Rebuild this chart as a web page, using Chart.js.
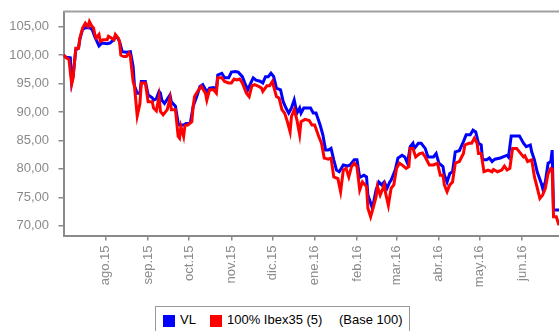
<!DOCTYPE html>
<html>
<head>
<meta charset="utf-8">
<script src="https://cdn.jsdelivr.net/npm/chart.js@4.4.1/dist/chart.umd.min.js"></script>
<style>
  html, body { margin:0; padding:0; background:#fff; overflow:hidden; width:559px; height:331px; }
  #wrap { position:absolute; left:0; top:0; width:559px; height:331px; }
  #legendBox { position:absolute; left:155px; top:306px; width:253px; height:40px; border:1px solid #999; background:#fff; }
  .lg { position:absolute; font-family:"Liberation Sans", Arial, sans-serif; font-size:13px; line-height:15px; color:#000; white-space:nowrap; }
  .sw { position:absolute; width:12px; height:12px; top:315px; }
</style>
</head>
<body>
<div id="wrap"><canvas id="c" width="559" height="331"></canvas></div>
<div id="legendBox"></div>
<div class="sw" style="left:163px;background:#0000ff"></div>
<span class="lg" style="left:180px;top:312px">VL</span>
<div class="sw" style="left:210px;background:#ff0000"></div>
<span class="lg" style="left:227px;top:312px">100% Ibex35 (5)</span>
<span class="lg" style="left:339px;top:312px">(Base 100)</span>
<script>
// days since 1 Jul 2015
const monthDays = [31, 62, 92, 123, 153, 184, 215, 244, 275, 305, 336];
const monthLabels = ['ago.15','sep.15','oct.15','nov.15','dic.15','ene.16','feb.16','mar.16','abr.16','may.16','jun.16'];
const yTicks = [70, 75, 80, 85, 90, 95, 100, 105];

const vlDays = [
  0,2,5,6,7,9,11,12,14,16,
  19,21,23,26,28,32,34,37,38,40,
  41,43,46,49,51,52,54,56,57,60,
  62,65,66,68,70,71,72,74,78,79,
  82,84,85,88,90,93,95,98,100,102,
  105,107,110,112,113,116,118,121,123,126,
  128,131,133,135,138,139,141,144,146,148,
  150,152,154,156,159,161,163,165,167,169,
  171,173,174,176,178,181,183,185,188,190,
  192,194,196,198,200,202,205,208,210,213,
  215,217,220,222,223,226,227,229,231,233,
  235,237,239,240,243,245,248,250,252,254,
  256,257,260,262,265,267,271,273,275,278,
  279,281,283,285,287,290,293,295,298,300,
  302,304,306,307,310,312,314,316,320,322,
  325,326,328,332,334,337,339,342,343,345,
  347,350,351,353,355,357,358,359,363
];
const vlValues = [
  100.0,99.6,99.5,95.2,96.2,100.9,101.2,102.8,104.5,104.8,
  104.8,104.5,103.2,101.6,102.1,102.0,102.1,102.7,103.3,102.9,
  102.4,100.6,100.5,100.6,98.0,94.6,93.3,93.3,95.35,95.35,
  93.0,92.5,92.1,92.3,93.6,93.3,92.1,91.5,93.0,91.8,
  91.0,88.0,87.7,87.7,88.0,88.2,91.0,93.0,94.5,94.8,
  93.5,94.2,94.3,94.0,96.5,96.8,96.0,96.0,97.0,97.1,
  97.0,96.2,95.0,93.9,95.5,96.0,95.6,95.4,95.1,96.2,
  96.2,96.8,96.2,94.2,93.9,91.8,90.7,89.8,90.7,92.1,
  89.8,90.7,89.8,90.7,90.7,90.7,89.8,89.8,87.7,86.0,
  83.3,83.3,83.6,81.6,79.8,79.5,80.7,80.5,80.7,81.6,
  81.6,78.5,78.9,78.6,75.4,73.3,73.9,76.3,77.7,77.2,
  77.7,76.6,77.7,78.0,79.8,81.9,82.4,82.1,81.0,83.9,
  84.5,83.6,84.5,84.5,83.6,82.1,82.1,82.7,81.0,80.4,
  78.9,77.7,79.2,79.5,83.0,83.2,84.8,86.0,86.0,86.8,
  86.5,84.5,84.2,81.6,81.6,81.9,81.3,81.7,81.9,82.1,
  82.4,82.1,85.8,85.8,85.8,84.5,83.9,84.2,83.0,81.6,
  79.5,77.5,76.6,77.7,81.0,81.3,83.3,72.8,72.8
];

const ibexDays = [
  0,2,4,6,7,9,11,12,14,16,
  18,19,21,22,23,24,26,27,29,32,
  33,35,37,38,40,41,42,44,46,48,
  49,51,52,54,56,57,60,62,65,66,
  68,70,71,73,76,78,79,82,84,85,
  86,88,89,91,94,95,96,99,101,104,
  105,107,110,112,113,116,118,121,123,125,
  127,129,131,134,136,138,140,143,145,146,
  149,151,153,156,158,160,162,164,166,167,
  169,171,173,174,177,180,182,184,187,189,
  191,194,196,198,201,203,205,207,209,211,
  213,215,217,219,222,223,225,227,229,230,
  232,235,236,238,240,242,244,246,248,251,
  253,254,256,258,261,263,265,268,271,274,
  276,278,279,281,283,285,287,290,293,294,
  297,299,301,303,304,306,308,311,314,315,
  318,321,323,325,327,329,332,334,337,338,
  340,343,345,346,349,351,353,355,357,358,
  359,361,363
];
const ibexValues = [
  100.0,99.5,99.2,94.9,96.0,101.2,101.2,103.0,104.75,105.6,
  105.0,105.9,105.0,104.75,103.6,103.0,103.6,102.4,102.7,102.7,
  103.3,103.0,102.7,103.6,103.0,102.4,100.0,99.75,99.75,100.35,
  99.75,95.35,94.5,89.3,91.5,95.1,95.1,91.8,91.8,90.7,
  90.2,92.7,90.1,89.5,90.4,92.4,90.4,90.4,85.7,85.4,
  87.4,85.7,87.6,87.7,88.3,91.0,92.7,93.9,94.5,93.3,
  92.1,93.9,93.9,93.3,96.0,96.0,95.35,95.1,95.1,95.8,
  95.65,95.8,95.1,93.3,92.7,94.6,94.8,94.5,94.2,93.6,
  94.6,94.6,95.35,92.7,92.4,90.4,89.8,88.3,86.5,89.2,
  90.4,88.6,86.0,88.3,88.7,88.5,87.7,87.7,85.7,84.5,
  81.9,81.7,81.9,78.6,78.3,76.0,79.8,80.1,78.6,80.4,
  81.0,80.4,76.3,77.7,76.9,73.1,71.6,73.3,75.1,76.9,
  75.4,77.2,75.7,73.6,76.6,77.2,80.1,81.0,80.7,80.1,
  80.4,83.6,83.6,82.1,82.7,82.8,82.1,80.7,80.7,81.0,
  78.9,78.9,77.2,76.0,77.2,77.7,81.0,81.3,82.7,84.2,
  84.5,84.5,85.4,84.5,82.7,82.7,79.5,79.8,79.5,79.9,
  79.5,79.8,80.5,79.8,80.1,83.6,83.6,83.0,82.1,82.3,
  81.3,81.6,78.6,77.7,74.8,75.4,76.6,79.2,80.1,80.0,
  71.6,71.6,70.1
];

const pts = (xs, ys) => xs.map((d, i) => ({ x: d, y: ys[i] }));
const FONT = { family: '"Liberation Sans", Arial, sans-serif', size: 13 };

const frame = {
  id: 'frame',
  afterDraw(chart) {
    const { ctx, chartArea: a } = chart;
    ctx.save();
    ctx.strokeStyle = '#a0a0a0';
    ctx.lineWidth = 2;
    ctx.beginPath();
    ctx.moveTo(a.left, a.top);
    ctx.lineTo(a.right + 2, a.top);
    ctx.stroke();
    ctx.restore();
  }
};

new Chart(document.getElementById('c'), {
  type: 'line',
  data: {
    datasets: [
      { label: 'VL', data: pts(vlDays, vlValues), borderColor: '#0000ff', backgroundColor: '#0000ff',
        borderWidth: 3, pointRadius: 0, tension: 0, order: 2, borderJoinStyle: 'miter' },
      { label: '100% Ibex35 (5)', data: pts(ibexDays, ibexValues), borderColor: '#ff0000', backgroundColor: '#ff0000',
        borderWidth: 3, pointRadius: 0, tension: 0, order: 1, borderJoinStyle: 'miter' }
    ]
  },
  options: {
    responsive: false,
    animation: false,
    events: [],
    layout: { padding: { top: 11.5, left: 0, right: 0, bottom: 0 } },
    plugins: { legend: { display: false }, tooltip: { enabled: false } },
    scales: {
      x: {
        type: 'linear', min: 0, max: 363,
        afterBuildTicks: s => { s.ticks = monthDays.map(v => ({ value: v })); },
        afterFit: s => { s.height = 95.5; },
        ticks: { autoSkip: false, minRotation: 90, maxRotation: 90, padding: 5,
                 color: '#8a8a8a', font: FONT,
                 callback: (v, i) => monthLabels[i] },
        grid: { drawOnChartArea: false, drawTicks: true, tickLength: 5, color: '#8a8a8a', lineWidth: 1.5 },
        border: { display: true, color: '#8a8a8a', width: 2 }
      },
      y: {
        min: 68.3, max: 107.65,
        afterBuildTicks: s => { s.ticks = yTicks.map(v => ({ value: v })); },
        afterFit: s => { s.width = 63.5; s.paddingTop = 0; s.paddingBottom = 0; },
        ticks: { padding: 9.5, color: '#8a8a8a', font: FONT,
                 callback: v => v.toFixed(2).replace('.', ',') },
        grid: { drawOnChartArea: false, drawTicks: true, tickLength: 5, color: '#8a8a8a', lineWidth: 1.5 },
        border: { display: true, color: '#8a8a8a', width: 2 }
      }
    }
  },
  plugins: [frame]
});
</script>
</body>
</html>
